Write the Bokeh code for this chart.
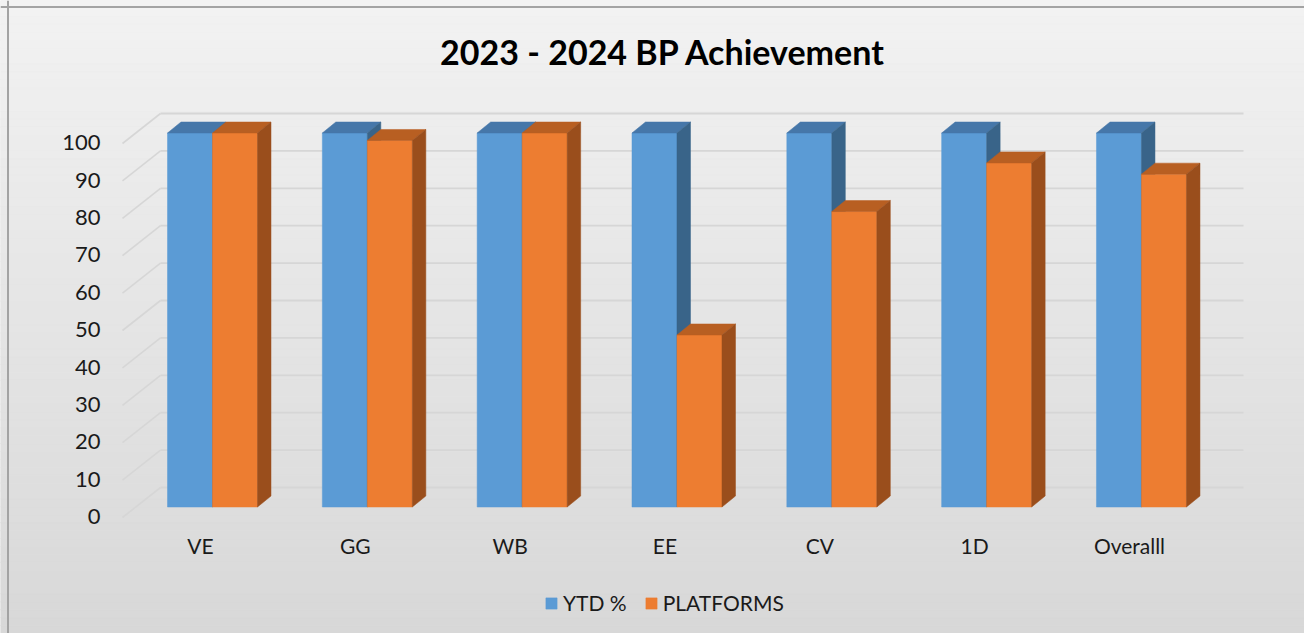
import numpy as np
from bokeh.plotting import figure
from bokeh.models import Range1d, Legend, LegendItem, Span
from bokeh.core.properties import value
from bokeh.embed import file_html
from bokeh.resources import INLINE

# ---------------- data ----------------
categories = ["VE", "GG", "WB", "EE", "CV", "1D", "Overalll"]
ytd = [100, 100, 100, 100, 100, 100, 100]
platforms = [100, 98, 100, 46, 79, 92, 89]
y_ticks = [0, 10, 20, 30, 40, 50, 60, 70, 80, 90, 100]
series_names = ["YTD %", "PLATFORMS"]
title_text = "2023 - 2024 BP Achievement"

# ---------------- layout ----------------
W, H = 1304, 633
CAT_PX = 154.83      # pixels per category
ORIGIN_X = 212.0     # px of first category centre
ORIGIN_Y = 506.5     # px (from top) of value 0 on the bar front plane
VAL_PX = 3.74        # pixels per value unit

def X(px):
    return (px - ORIGIN_X) / CAT_PX

def Y(py):
    return (ORIGIN_Y - py) / VAL_PX

FONT = "Lato"

p = figure(width=W, height=H, output_backend="svg", toolbar_location=None,
           x_range=Range1d(X(0), X(W)), y_range=Range1d(Y(H), Y(0)),
           x_axis_location=None, y_axis_location=None, min_border=0,
           background_fill_color="#e6e6e6", border_fill_color="#e6e6e6",
           outline_line_color=None)
p.xgrid.visible = False
p.ygrid.visible = False

# background gradient
N = 80
edges = np.linspace(Y(0), Y(H), N + 1)
cols = []
for k in range(N):
    t = (k + 0.5) / N
    c = int(round(242 + (216 - 242) * t))
    cols.append("#%02x%02x%02x" % (c, c, c))
p.quad(left=X(0), right=X(W), top=edges[:-1], bottom=edges[1:],
       fill_color=cols, line_color=cols, line_width=0.5)

# gridlines (side wall diagonals + back wall)
front_off = -(517 - 506.5) / VAL_PX
back_off = (506.5 - 487) / VAL_PX
gx_front, gx_back, gx_end = X(122), X(160), X(1243)
p.multi_line(xs=[[gx_front, gx_back] for v in y_ticks],
             ys=[[v + front_off, v + back_off] for v in y_ticks],
             line_color="#d6d6d6", line_width=1.6)
p.multi_line(xs=[[gx_back, gx_end] for v in y_ticks],
             ys=[[v + back_off, v + back_off] for v in y_ticks],
             line_color="#d6d6d6", line_width=1.8)

# 3D bars
half = 45.0 / CAT_PX
ddx = 13.5 / CAT_PX
ddy = 11.0 / VAL_PX
faces = [("#5b9bd5", "#4677a9", "#396489"),
         ("#ed7d31", "#b85f22", "#9a4e1c")]
front_renderers = []
for s, vals in enumerate([ytd, platforms]):
    fc, tc, sc = faces[s]
    x0 = [i + (s - 1) * half for i in range(len(categories))]
    x1 = [a + half for a in x0]
    r = p.quad(left=x0, right=x1, bottom=0, top=vals, fill_color=fc, line_color=fc, line_width=0.5)
    front_renderers.append(r)
    p.patches(xs=[[a, b, b + ddx, a + ddx] for a, b in zip(x0, x1)],
              ys=[[v, v, v + ddy, v + ddy] for v in vals],
              fill_color=tc, line_color=tc, line_width=0.5)
    p.patches(xs=[[b, b + ddx, b + ddx, b] for b in x1],
              ys=[[0, ddy, v + ddy, v] for v in vals],
              fill_color=sc, line_color=sc, line_width=0.5)

# y tick labels
p.text(x=[X(100)] * len(y_ticks), y=[v + front_off + 0.2 for v in y_ticks],
       text=[str(v) for v in y_ticks], text_align="right", text_baseline="middle",
       text_font=value(FONT), text_font_size="22px", text_color="#1a1a1a")

# category labels
p.text(x=[i - 12.0 / CAT_PX for i in range(len(categories))], y=[Y(545)] * len(categories),
       text=categories, text_align="center", text_baseline="middle",
       text_font=value(FONT), text_font_size="21px", text_color="#1a1a1a")

# title
p.text(x=[X(662.5)], y=[Y(51)], text=[title_text], text_align="center",
       text_baseline="middle", text_font=value(FONT), text_font_style="bold",
       text_font_size="34px", text_color="#000000")

# legend
legend = Legend(items=[LegendItem(label=series_names[0], renderers=[front_renderers[0]]),
                       LegendItem(label=series_names[1], renderers=[front_renderers[1]])],
                orientation="horizontal", location=(544, 18),
                glyph_width=14, glyph_height=14, label_standoff=5, spacing=17,
                padding=0, margin=0, background_fill_alpha=0, border_line_color=None,
                label_text_font=FONT, label_text_font_size="21px", label_height=20,
                label_text_color="#1a1a1a")
p.add_layout(legend)

# chart border (top and left visible)
p.add_layout(Span(location=X(7.5), dimension="height", line_color="#a3a3a3", line_width=2))
p.add_layout(Span(location=Y(6.5), dimension="width", line_color="#a3a3a3", line_width=2))

open("out.html", "w").write(file_html(p, INLINE))
